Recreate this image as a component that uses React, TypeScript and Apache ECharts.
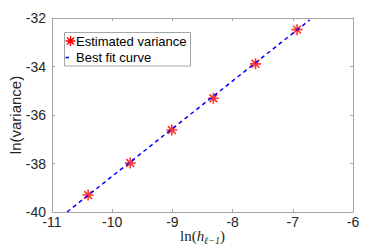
import React, { useEffect, useRef } from "react";
import * as echarts from "echarts";

// Data
const lnH: number[] = [-10.4, -9.7, -9.01, -8.32, -7.62, -6.93];
const lnVariance: number[] = [-39.3, -37.98, -36.62, -35.31, -33.89, -32.48];
const fitLnH: number[] = [-10.75, -6.72];
const fitLnVariance: number[] = [-40.0, -32.08];
const xTicks: number[] = [-11, -10, -9, -8, -7, -6];
const yTicks: number[] = [-40, -38, -36, -34, -32];
const seriesNames: string[] = ["Estimated variance", "Best fit curve"];

const SANS = "'Liberation Sans', Arial, Helvetica, sans-serif";
const SERIF = "'Liberation Serif', 'DejaVu Serif', serif";
const AXIS_GRAY = "#a6a6a6";
const TEXT = "#262626";
const ASTERISK =
  "M0,-5.5 L0,5.5 M-5.5,0 L5.5,0 M-3.9,-3.9 L3.9,3.9 M-3.9,3.9 L3.9,-3.9";

let registered = false;

export default function App() {
  const ref = useRef<HTMLDivElement>(null);
  useEffect(() => {
    document.body.style.margin = "0";
    if (!registered) {
      echarts.graphic.registerShape(
        "asterisk",
        echarts.graphic.extendPath(ASTERISK, {}) as any
      );
      registered = true;
    }
    const chart = echarts.init(ref.current!, undefined, { renderer: "svg" });
    const xMin = xTicks[0];
    const xMax = xTicks[xTicks.length - 1];
    const yMin = yTicks[0];
    const yMax = yTicks[yTicks.length - 1];
    const baseAxis = {
      type: "value" as const,
      splitLine: { show: false },
      axisLine: { show: true, lineStyle: { color: AXIS_GRAY, width: 1 } },
      axisTick: { show: true, inside: true, length: 3, lineStyle: { color: AXIS_GRAY } },
    };
    chart.setOption({
      animation: false,
      backgroundColor: "#ffffff",
      grid: {
        left: 52,
        right: 37,
        top: 18,
        bottom: 36,
        containLabel: false,
        outerBoundsMode: "none",
      },
      xAxis: [
        {
          ...baseAxis,
          position: "bottom",
          min: xMin,
          max: xMax,
          interval: 1,
          axisLabel: {
            color: TEXT,
            fontFamily: SANS,
            fontSize: 14,
            margin: 3,
            hideOverlap: false,
          },
          name: "{a|ln(}{h|h}{s|ℓ−1}{a|)}",
          nameLocation: "middle",
          nameGap: 15,
          nameMoveOverlap: false,
          nameTextStyle: {
            rich: {
              a: { fontFamily: SERIF, fontSize: 15, color: TEXT },
              h: { fontFamily: SERIF, fontSize: 15, fontStyle: "italic", color: TEXT },
              s: {
                fontFamily: SERIF,
                fontSize: 10,
                fontStyle: "italic",
                color: TEXT,
                padding: [8, 0, 0, 0],
              },
            },
          },
        },
        {
          ...baseAxis,
          position: "top",
          min: xMin,
          max: xMax,
          interval: 1,
          axisLabel: { show: false },
        },
      ],
      yAxis: [
        {
          ...baseAxis,
          position: "left",
          min: yMin,
          max: yMax,
          interval: 2,
          axisLabel: {
            color: TEXT,
            fontFamily: SANS,
            fontSize: 14,
            margin: 6,
            hideOverlap: false,
          },
          name: "ln(variance)",
          nameLocation: "middle",
          nameRotate: 90,
          nameGap: 29,
          nameMoveOverlap: false,
          nameTextStyle: { color: TEXT, fontFamily: SANS, fontSize: 15 },
        },
        {
          ...baseAxis,
          position: "right",
          min: yMin,
          max: yMax,
          interval: 2,
          axisLabel: { show: false },
        },
      ],
      series: [
        {
          name: seriesNames[0],
          type: "scatter",
          xAxisIndex: 0,
          yAxisIndex: 0,
          data: lnH.map((x, i) => [x, lnVariance[i]]),
          symbol: "path://M5.5,0 L5.5,11 M0,5.5 L11,5.5 M1.6,1.6 L9.4,9.4 M1.6,9.4 L9.4,1.6",
          symbolSize: 11,
          itemStyle: { color: "rgba(0,0,0,0)", borderColor: "#ff0000", borderWidth: 1.6 },
        },
        {
          name: seriesNames[1],
          type: "line",
          xAxisIndex: 0,
          yAxisIndex: 0,
          data: fitLnH.map((x, i) => [x, fitLnVariance[i]]),
          showSymbol: false,
          symbol: "none",
          lineStyle: { color: "#0000ff", width: 1.5, type: [4, 3.5] },
        },
      ],
      graphic: [
        {
          type: "rect",
          z: 100,
          shape: { x: 64.5, y: 32.5, width: 126, height: 33.5 },
          style: { fill: "#ffffff", stroke: AXIS_GRAY, lineWidth: 1 },
        },
        {
          type: "asterisk",
          z: 101,
          x: 70.5,
          y: 41,
          scaleX: 0.9,
          scaleY: 0.9,
          style: { fill: "none", stroke: "#ff0000", lineWidth: 1.6 },
        } as any,
        {
          type: "text",
          z: 101,
          x: 76,
          y: 41,
          style: {
            text: seriesNames[0],
            fontFamily: SANS,
            fontSize: 13,
            fill: "#000000",
            verticalAlign: "middle",
            align: "left",
          },
        },
        {
          type: "line",
          z: 101,
          shape: { x1: 65.5, y1: 57.5, x2: 69, y2: 57.5 },
          style: { stroke: "#0000ff", lineWidth: 1.5 },
        },
        {
          type: "text",
          z: 101,
          x: 76,
          y: 57,
          style: {
            text: seriesNames[1],
            fontFamily: SANS,
            fontSize: 13,
            fill: "#000000",
            verticalAlign: "middle",
            align: "left",
          },
        },
      ],
    });
    return () => chart.dispose();
  }, []);
  return (
    <div
      ref={ref}
      style={{ position: "absolute", left: 0, top: 0, width: 390, height: 248 }}
    />
  );
}
